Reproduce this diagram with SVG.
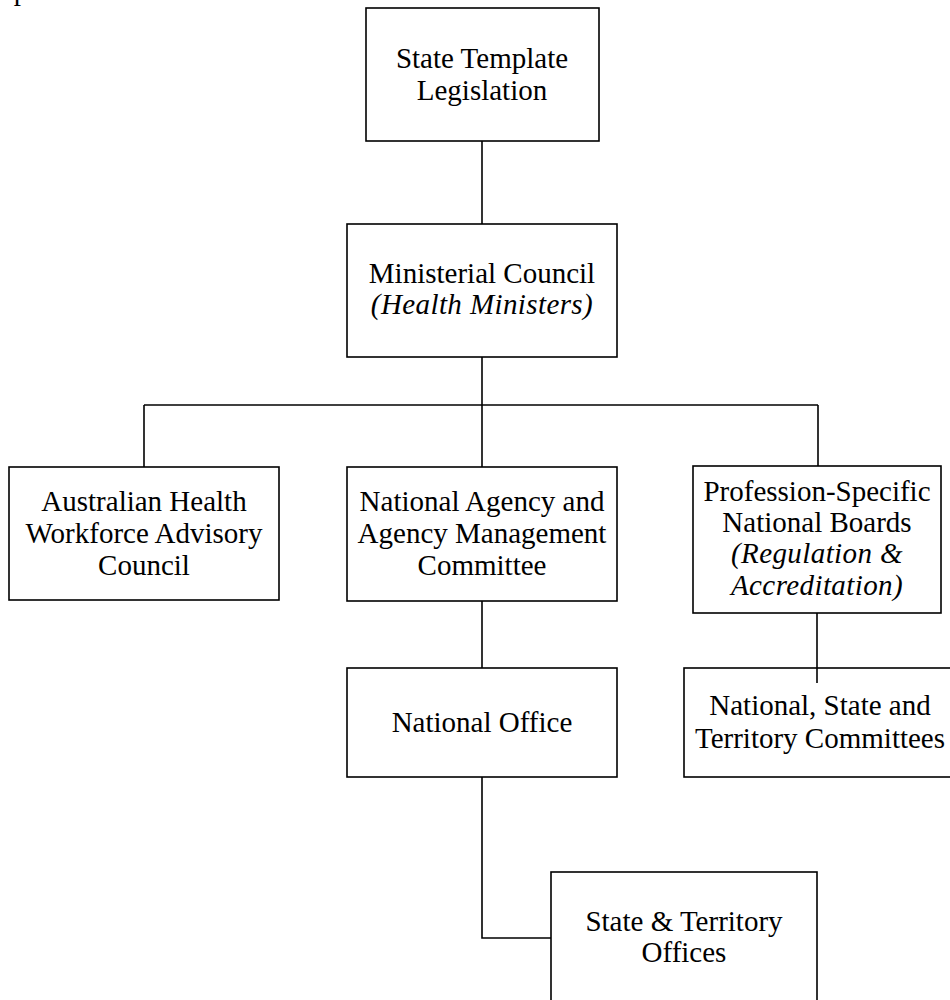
<svg xmlns="http://www.w3.org/2000/svg" width="950" height="1000" viewBox="0 0 950 1000">
<style>
.box{fill:#fff;stroke:#000;stroke-width:1.6}
.lbl{font-family:"Liberation Serif","Times New Roman",serif;font-size:29px;fill:#000;text-anchor:middle}
.it{font-style:italic;letter-spacing:0.4px}
.con{fill:none;stroke:#000;stroke-width:1.6}
</style>
<rect width="950" height="1000" fill="#fff"/>
<text class="lbl" x="21" y="0">p</text>
<g id="connectors">
<line class="con" x1="482" y1="141" x2="482" y2="224"/>
<line class="con" x1="482" y1="357" x2="482" y2="467"/>
<line class="con" x1="144" y1="405" x2="818" y2="405"/>
<line class="con" x1="144" y1="405" x2="144" y2="467"/>
<line class="con" x1="818" y1="405" x2="818" y2="466"/>
<line class="con" x1="482" y1="601" x2="482" y2="668"/>
<polyline class="con" points="482,777 482,938 551,938"/>
</g>
<g id="state-template">
<rect class="box" x="366" y="8" width="233" height="133"/>
<text class="lbl" x="482" y="68">State Template</text>
<text class="lbl" x="482" y="100">Legislation</text>
</g>
<g id="ministerial-council">
<rect class="box" x="347" y="224" width="270" height="133"/>
<text class="lbl" x="482" y="283">Ministerial Council</text>
<text class="lbl it" x="482" y="314">(Health Ministers)</text>
</g>
<g id="ahwac">
<rect class="box" x="9" y="467" width="270" height="133"/>
<text class="lbl" x="144" y="511">Australian Health</text>
<text class="lbl" x="144" y="543">Workforce Advisory</text>
<text class="lbl" x="144" y="575">Council</text>
</g>
<g id="national-agency">
<rect class="box" x="347" y="467" width="270" height="134"/>
<text class="lbl" x="482" y="511">National Agency and</text>
<text class="lbl" x="482" y="543">Agency Management</text>
<text class="lbl" x="482" y="575">Committee</text>
</g>
<g id="profession-boards">
<rect class="box" x="693" y="466" width="248" height="147"/>
<text class="lbl" x="817" y="501">Profession-Specific</text>
<text class="lbl" x="817" y="532">National Boards</text>
<text class="lbl it" x="817" y="563">(Regulation &amp;</text>
<text class="lbl it" x="817" y="595">Accreditation)</text>
</g>
<g id="nst-committees">
<rect class="box" x="684" y="668" width="272" height="109"/>
<text class="lbl" x="820" y="715">National, State and</text>
<text class="lbl" x="820" y="748">Territory Committees</text>
</g>
<line class="con" x1="817" y1="613" x2="817" y2="683"/>
<g id="national-office">
<rect class="box" x="347" y="668" width="270" height="109"/>
<text class="lbl" x="482" y="732">National Office</text>
</g>
<g id="state-offices">
<rect class="box" x="551" y="872" width="266" height="140"/>
<text class="lbl" x="684" y="931">State &amp; Territory</text>
<text class="lbl" x="684" y="962">Offices</text>
</g>
</svg>
